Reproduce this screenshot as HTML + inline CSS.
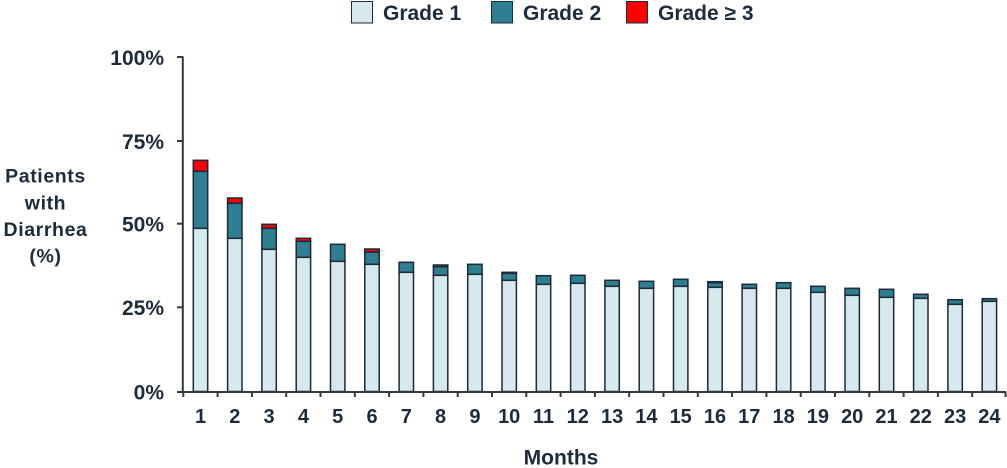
<!DOCTYPE html>
<html>
<head>
<meta charset="utf-8">
<style>
html,body{margin:0;padding:0;background:#fff;}
svg{display:block;}
text{font-family:"Liberation Sans",Arial,sans-serif;font-weight:bold;fill:#1e2b3a;}
</style>
</head>
<body>
<svg width="1007" height="468" viewBox="0 0 1007 468" xmlns="http://www.w3.org/2000/svg">
<!-- Legend -->
<rect x="351.5" y="1.5" width="21" height="21.5" fill="#d5e9ef" stroke="#1e2b3a" stroke-width="1"/>
<text x="383" y="20" font-size="21">Grade 1</text>
<rect x="491.5" y="1.5" width="21" height="21.5" fill="#2e7f92" stroke="#1e2b3a" stroke-width="1"/>
<text x="523" y="20" font-size="21">Grade 2</text>
<rect x="626.5" y="1.5" width="21" height="21.5" fill="#ff0000" stroke="#1e2b3a" stroke-width="1"/>
<text x="658" y="20" font-size="21">Grade ≥ 3</text>

<!-- Y axis title -->
<g font-size="19.5" text-anchor="middle" letter-spacing="0.6">
<text x="45.5" y="182.7">Patients</text>
<text x="45.5" y="209.3">with</text>
<text x="45.5" y="236">Diarrhea</text>
<text x="45.5" y="262.5">(%)</text>
</g>

<!-- Y tick labels -->
<g font-size="21" text-anchor="end">
<text x="164" y="65">100%</text>
<text x="164" y="149">75%</text>
<text x="164" y="231.7">50%</text>
<text x="164" y="315">25%</text>
<text x="164" y="399.3">0%</text>
</g>

<!-- Bars -->
<g stroke="#1c2a38" stroke-width="1.5">
<rect x="193.3" y="228.3" width="14.4" height="163.2" fill="#d5e9ef"/>
<rect x="193.3" y="171.3" width="14.4" height="57" fill="#2e7f92"/>
<rect x="193.3" y="160.3" width="14.4" height="11" fill="#ff0000"/>

<rect x="227.6" y="238.3" width="14.4" height="153.2" fill="#d5e9ef"/>
<rect x="227.6" y="203.3" width="14.4" height="35" fill="#2e7f92"/>
<rect x="227.6" y="198" width="14.4" height="5.3" fill="#ff0000"/>

<rect x="261.9" y="249.3" width="14.4" height="142.2" fill="#d5e9ef"/>
<rect x="261.9" y="228.3" width="14.4" height="21" fill="#2e7f92"/>
<rect x="261.9" y="224.3" width="14.4" height="4" fill="#ff0000"/>

<rect x="296.2" y="257.3" width="14.4" height="134.2" fill="#d5e9ef"/>
<rect x="296.2" y="241.3" width="14.4" height="16" fill="#2e7f92"/>
<rect x="296.2" y="238.3" width="14.4" height="3" fill="#ff0000"/>

<rect x="330.5" y="261.3" width="14.4" height="130.2" fill="#d5e9ef"/>
<rect x="330.5" y="244.3" width="14.4" height="17" fill="#2e7f92"/>

<rect x="364.8" y="264.3" width="14.4" height="127.2" fill="#d5e9ef"/>
<rect x="364.8" y="252" width="14.4" height="12.3" fill="#2e7f92"/>
<rect x="364.8" y="249" width="14.4" height="3" fill="#ff0000"/>

<rect x="399.1" y="272.3" width="14.4" height="119.2" fill="#d5e9ef"/>
<rect x="399.1" y="262.3" width="14.4" height="10" fill="#2e7f92"/>

<rect x="433.4" y="275.3" width="14.4" height="116.2" fill="#d5e9ef"/>
<rect x="433.4" y="266.7" width="14.4" height="8.6" fill="#2e7f92"/>
<rect x="433.4" y="265" width="14.4" height="1.7" fill="#ff0000"/>

<rect x="467.7" y="274.3" width="14.4" height="117.2" fill="#d5e9ef"/>
<rect x="467.7" y="264.3" width="14.4" height="10" fill="#2e7f92"/>

<rect x="502" y="280.3" width="14.4" height="111.2" fill="#d5e9ef"/>
<rect x="502" y="273.3" width="14.4" height="7" fill="#2e7f92"/>
<rect x="502" y="272.3" width="14.4" height="1" fill="#ff0000"/>

<rect x="536.3" y="284.3" width="14.4" height="107.2" fill="#d5e9ef"/>
<rect x="536.3" y="275.7" width="14.4" height="8.6" fill="#2e7f92"/>

<rect x="570.6" y="283.3" width="14.4" height="108.2" fill="#d5e9ef"/>
<rect x="570.6" y="275.3" width="14.4" height="8" fill="#2e7f92"/>

<rect x="604.9" y="286.3" width="14.4" height="105.2" fill="#d5e9ef"/>
<rect x="604.9" y="280.3" width="14.4" height="6" fill="#2e7f92"/>

<rect x="639.2" y="288.3" width="14.4" height="103.2" fill="#d5e9ef"/>
<rect x="639.2" y="281.3" width="14.4" height="7" fill="#2e7f92"/>

<rect x="673.5" y="286.3" width="14.4" height="105.2" fill="#d5e9ef"/>
<rect x="673.5" y="279.3" width="14.4" height="7" fill="#2e7f92"/>

<rect x="707.8" y="287.3" width="14.4" height="104.2" fill="#d5e9ef"/>
<rect x="707.8" y="282.7" width="14.4" height="4.6" fill="#2e7f92"/>
<rect x="707.8" y="281.7" width="14.4" height="1" fill="#ff0000"/>

<rect x="742.1" y="288.3" width="14.4" height="103.2" fill="#d5e9ef"/>
<rect x="742.1" y="284.3" width="14.4" height="4" fill="#2e7f92"/>

<rect x="776.4" y="288.3" width="14.4" height="103.2" fill="#d5e9ef"/>
<rect x="776.4" y="282.7" width="14.4" height="5.6" fill="#2e7f92"/>

<rect x="810.7" y="292.3" width="14.4" height="99.2" fill="#d5e9ef"/>
<rect x="810.7" y="286.3" width="14.4" height="6" fill="#2e7f92"/>

<rect x="845" y="295.3" width="14.4" height="96.2" fill="#d5e9ef"/>
<rect x="845" y="288.3" width="14.4" height="7" fill="#2e7f92"/>

<rect x="879.3" y="297.3" width="14.4" height="94.2" fill="#d5e9ef"/>
<rect x="879.3" y="289.3" width="14.4" height="8" fill="#2e7f92"/>

<rect x="913.6" y="298.3" width="14.4" height="93.2" fill="#d5e9ef"/>
<rect x="913.6" y="294.3" width="14.4" height="4" fill="#2e7f92"/>

<rect x="947.9" y="304.3" width="14.4" height="87.2" fill="#d5e9ef"/>
<rect x="947.9" y="299.7" width="14.4" height="4.6" fill="#2e7f92"/>

<rect x="982.2" y="301.3" width="14.4" height="90.2" fill="#d5e9ef"/>
<rect x="982.2" y="298.7" width="14.4" height="2.6" fill="#2e7f92"/>
</g>

<!-- Axes -->
<g stroke="#2f3a45" stroke-width="2" fill="none">
<line x1="182.8" y1="56.5" x2="182.8" y2="392"/>
<line x1="177" y1="392" x2="1006" y2="392"/>
<line x1="177" y1="57" x2="183" y2="57"/>
<line x1="177" y1="141" x2="183" y2="141"/>
<line x1="177" y1="223.7" x2="183" y2="223.7"/>
<line x1="177" y1="307.3" x2="183" y2="307.3"/>
<line x1="183.3" y1="392" x2="183.3" y2="397"/>
<line x1="217.6" y1="392" x2="217.6" y2="397"/>
<line x1="251.9" y1="392" x2="251.9" y2="397"/>
<line x1="286.2" y1="392" x2="286.2" y2="397"/>
<line x1="320.5" y1="392" x2="320.5" y2="397"/>
<line x1="354.8" y1="392" x2="354.8" y2="397"/>
<line x1="389.1" y1="392" x2="389.1" y2="397"/>
<line x1="423.4" y1="392" x2="423.4" y2="397"/>
<line x1="457.7" y1="392" x2="457.7" y2="397"/>
<line x1="492" y1="392" x2="492" y2="397"/>
<line x1="526.3" y1="392" x2="526.3" y2="397"/>
<line x1="560.6" y1="392" x2="560.6" y2="397"/>
<line x1="594.9" y1="392" x2="594.9" y2="397"/>
<line x1="629.2" y1="392" x2="629.2" y2="397"/>
<line x1="663.5" y1="392" x2="663.5" y2="397"/>
<line x1="697.8" y1="392" x2="697.8" y2="397"/>
<line x1="732.1" y1="392" x2="732.1" y2="397"/>
<line x1="766.4" y1="392" x2="766.4" y2="397"/>
<line x1="800.7" y1="392" x2="800.7" y2="397"/>
<line x1="835" y1="392" x2="835" y2="397"/>
<line x1="869.3" y1="392" x2="869.3" y2="397"/>
<line x1="903.6" y1="392" x2="903.6" y2="397"/>
<line x1="937.9" y1="392" x2="937.9" y2="397"/>
<line x1="972.2" y1="392" x2="972.2" y2="397"/>
<line x1="1005.5" y1="392" x2="1005.5" y2="397"/>
</g>

<!-- X tick labels -->
<g font-size="20" text-anchor="middle">
<text x="200.5" y="423">1</text>
<text x="234.8" y="423">2</text>
<text x="269.1" y="423">3</text>
<text x="303.4" y="423">4</text>
<text x="337.7" y="423">5</text>
<text x="372" y="423">6</text>
<text x="406.3" y="423">7</text>
<text x="440.6" y="423">8</text>
<text x="474.9" y="423">9</text>
<text x="509.2" y="423">10</text>
<text x="543.5" y="423">11</text>
<text x="577.8" y="423">12</text>
<text x="612.1" y="423">13</text>
<text x="646.4" y="423">14</text>
<text x="680.7" y="423">15</text>
<text x="715" y="423">16</text>
<text x="749.3" y="423">17</text>
<text x="783.6" y="423">18</text>
<text x="817.9" y="423">19</text>
<text x="852.2" y="423">20</text>
<text x="886.5" y="423">21</text>
<text x="920.8" y="423">22</text>
<text x="955.1" y="423">23</text>
<text x="989.4" y="423">24</text>
</g>

<!-- X axis title -->
<text x="561" y="464.3" font-size="21" text-anchor="middle">Months</text>
</svg>
</body>
</html>
